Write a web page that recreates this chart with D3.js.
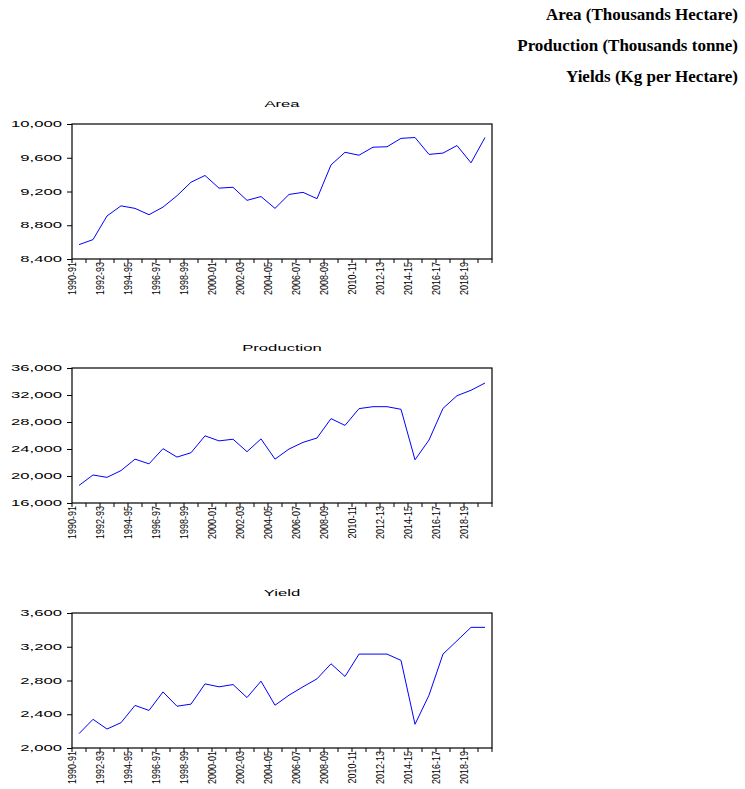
<!DOCTYPE html>
<html>
<head>
<meta charset="utf-8">
<script src="https://cdn.jsdelivr.net/npm/d3@7"></script>
<style>
  body { margin: 0; background: #fff; }
  svg { display: block; }
</style>
</head>
<body>
<div class="chart"></div>
<script>
var years = ["1990-91", "1991-92", "1992-93", "1993-94", "1994-95", "1995-96", "1996-97", "1997-98",
  "1998-99", "1999-00", "2000-01", "2001-02", "2002-03", "2003-04", "2004-05", "2005-06", "2006-07",
  "2007-08", "2008-09", "2009-10", "2010-11", "2011-12", "2012-13", "2013-14", "2014-15", "2015-16",
  "2016-17", "2017-18", "2018-19", "2019-20"];

var area = [8570, 8630, 8910, 9030, 9000, 8925, 9015, 9150, 9310, 9390, 9240, 9250, 9095, 9140,
  9000, 9165, 9190, 9115, 9515, 9665, 9630, 9725, 9730, 9830, 9840, 9640, 9655, 9745, 9540, 9840];

var production = [18600, 20150, 19800, 20800, 22500, 21800, 24050, 22800, 23450, 25950, 25200,
  25450, 23600, 25500, 22500, 24000, 24980, 25630, 28500, 27500, 29980, 30270, 30270, 29880,
  22400, 25330, 30020, 31900, 32700, 33780];

var yields = [2170, 2340, 2225, 2300, 2505, 2445, 2665, 2495, 2520, 2760, 2725, 2752, 2598, 2792,
  2507, 2626, 2725, 2820, 2998, 2848, 3113, 3113, 3113, 3038, 2281, 2626, 3113, 3271, 3430, 3430];

var yearTicks = ["1990-91", "1992-93", "1994-95", "1996-97", "1998-99", "2000-01", "2002-03",
  "2004-05", "2006-07", "2008-09", "2010-11", "2012-13", "2014-15", "2016-17", "2018-19"];

var legendLines = ["Area (Thousands Hectare)", "Production (Thousands tonne)", "Yields (Kg per Hectare)"];

var panels = [
  {title: "Area", values: area, ticks: [8400, 8800, 9200, 9600, 10000], top: 124},
  {title: "Production", values: production, ticks: [16000, 20000, 24000, 28000, 32000, 36000], top: 368},
  {title: "Yield", values: yields, ticks: [2000, 2400, 2800, 3200, 3600], top: 613}
];

var width = 745, height = 789;
var left = 72, right = 492, plotH = 135;
var stretch = 1.85;

var svg = d3.select(".chart")
  .append("svg")
  .attr("width", width)
  .attr("height", height);

// legend block, top right
svg.selectAll("text.legend")
  .data(legendLines)
  .enter().append("text")
  .attr("class", "legend")
  .attr("x", 738)
  .attr("y", function(d, i) { return 19.5 + i * 31; })
  .attr("text-anchor", "end")
  .style("font-family", "'Liberation Serif', 'Times New Roman', serif")
  .style("font-weight", "bold")
  .style("font-size", "17px")
  .text(function(d) { return d; });

var x = d3.scaleBand()
  .domain(years)
  .range([left, right])
  .padding(0);

panels.forEach(function(p) {
  var bottom = p.top + plotH;

  var y = d3.scaleLinear()
    .domain([p.ticks[0], p.ticks[p.ticks.length - 1]])
    .range([bottom, p.top]);

  var g = svg.append("g");

  // title
  g.append("text")
    .attr("transform", "translate(" + (left + right) / 2 + "," + (p.top - 17) + ") scale(" + stretch + ",1)")
    .attr("text-anchor", "middle")
    .style("font-family", "'Liberation Sans', Arial, sans-serif")
    .style("font-size", "9px")
    .text(p.title);

  // y axis
  var yAxis = g.append("g")
    .attr("transform", "translate(" + left + ",0)")
    .call(d3.axisLeft(y).tickValues(p.ticks).tickSize(5).tickSizeOuter(0).tickFormat(d3.format(",")));
  yAxis.select(".domain").remove();
  yAxis.selectAll("line").attr("stroke", "#000");
  yAxis.selectAll("text")
    .attr("x", null)
    .attr("dy", null)
    .attr("transform", "translate(-10,2.5) scale(" + stretch + ",1)")
    .style("font-family", "'Liberation Sans', Arial, sans-serif")
    .style("font-size", "9px")
    .attr("fill", "#000");

  // x ticks at category edges
  var edges = years.map(function(d) { return x(d); }).concat([right]);
  g.selectAll("line.xtick")
    .data(edges)
    .enter().append("line")
    .attr("class", "xtick")
    .attr("x1", function(d) { return d; })
    .attr("x2", function(d) { return d; })
    .attr("y1", bottom)
    .attr("y2", bottom + 4)
    .attr("stroke", "#000");

  g.selectAll("text.xlab")
    .data(yearTicks)
    .enter().append("text")
    .attr("class", "xlab")
    .attr("transform", function(d) {
      return "translate(" + (x(d) + 4) + "," + (bottom + 3) + ") rotate(-90) scale(0.82,1)";
    })
    .attr("text-anchor", "end")
    .style("font-family", "'Liberation Sans', Arial, sans-serif")
    .style("font-size", "11px")
    .text(function(d) { return d; });

  // series line
  var line = d3.line()
    .x(function(d, i) { return x(years[i]) + x.bandwidth() / 2; })
    .y(function(d) { return y(d); });

  g.append("path")
    .datum(p.values)
    .attr("d", line)
    .attr("fill", "none")
    .attr("stroke", "#0000ff")
    .attr("stroke-width", 1);

  // frame
  g.append("rect")
    .attr("x", left)
    .attr("y", p.top)
    .attr("width", right - left)
    .attr("height", plotH)
    .attr("fill", "none")
    .attr("stroke", "#000")
    .attr("stroke-width", 1.2);
});
</script>
</body>
</html>
